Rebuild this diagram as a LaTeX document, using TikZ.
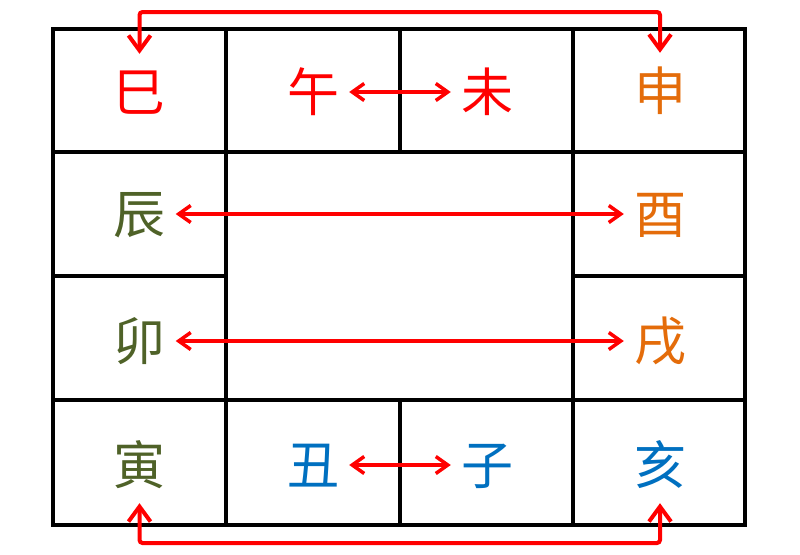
\documentclass[tikz,border=0pt]{standalone}
\usepackage{fontspec}
\newfontfamily\cjk{Noto Sans CJK SC}
\usetikzlibrary{arrows.meta}
\definecolor{zred}{RGB}{255,0,0}
\definecolor{zorange}{RGB}{228,108,10}
\definecolor{zgreen}{RGB}{79,98,40}
\definecolor{zblue}{RGB}{0,112,192}
\begin{document}
\begin{tikzpicture}[x=1pt,y=-1pt,
  gridline/.style={line width=4pt,black},
  zhi/.style={font=\cjk\fontsize{52pt}{52pt}\selectfont, inner xsep=10pt, inner ysep=12pt, text height=45.8pt, text depth=6.2pt},
  pair/.style={zred, line width=3.5pt, {Straight Barb[length=12pt,width=17pt]}-{Straight Barb[length=12pt,width=17pt]}},
  loopline/.style={zred, line width=4pt, rounded corners=3pt, {Straight Barb[length=15pt,width=22pt]}-{Straight Barb[length=15pt,width=22pt]}}]
\useasboundingbox[fill=white] (0,0) rectangle (800,554);
% grid
\draw[gridline] (53,29) rectangle (745,525);
\draw[gridline] (226,29) -- (226,525);
\draw[gridline] (573,29) -- (573,525);
\draw[gridline] (400,29) -- (400,152);
\draw[gridline] (400,400) -- (400,525);
\draw[gridline] (53,152) -- (745,152);
\draw[gridline] (53,400) -- (745,400);
\draw[gridline] (53,276) -- (226,276);
\draw[gridline] (573,276) -- (745,276);
% branches
\node[zhi,text=zred] (si) at (139.5,92) {巳};
\node[zhi,text=zred] (wu) at (313,92) {午};
\node[zhi,text=zred] (wei) at (487,92) {未};
\node[zhi,text=zorange] (shen) at (660,91) {申};
\node[zhi,text=zgreen] (chen) at (139.5,214) {辰};
\node[zhi,text=zorange] (you) at (660,214) {酉};
\node[zhi,text=zgreen] (mao) at (139.5,341) {卯};
\node[zhi,text=zorange] (xu) at (660,341) {戌};
\node[zhi,text=zgreen] (yin) at (139.5,465) {寅};
\node[zhi,text=zblue] (chou) at (313,465) {丑};
\node[zhi,text=zblue] (zi) at (487,465) {子};
\node[zhi,text=zblue] (hai) at (660,465) {亥};
% connectors
\draw[pair] (wu.east) -- (wei.west);
\draw[pair] (chou.east) -- (zi.west);
\draw[pair] (chen.east) -- (you.west);
\draw[pair] (mao.east) -- (xu.west);
\coordinate (tl) at (400,12);
\coordinate (bl) at (400,543);
\draw[loopline] (si.north) |- (tl) -| (shen.north);
\draw[loopline] (yin.south) |- (bl) -| (hai.south);
\end{tikzpicture}
\end{document}
